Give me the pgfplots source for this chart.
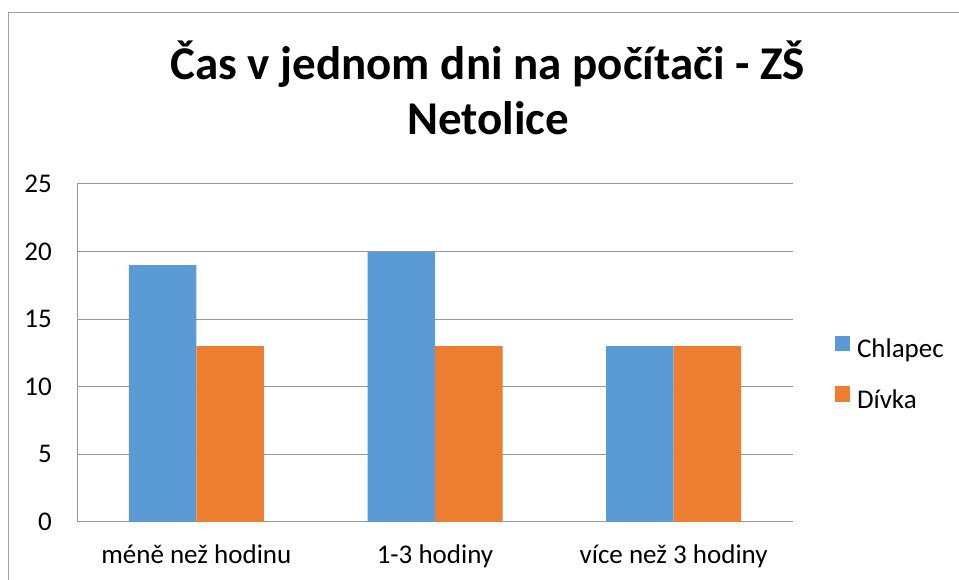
\documentclass[border=0pt]{standalone}
\usepackage{pgfplots}
\pgfplotsset{compat=1.18}
\usepackage{fontspec}
\setmainfont{Carlito}
\definecolor{cblue}{RGB}{91,155,213}
\definecolor{corange}{RGB}{237,125,49}
\definecolor{cgrid}{RGB}{150,150,150}
\definecolor{cframe}{RGB}{160,160,160}
\begin{document}
\begin{tikzpicture}
\useasboundingbox (0bp,0bp) rectangle (959bp,580bp);
\draw[cframe, line width=1bp] (8.5bp,567.5bp) rectangle (1000bp,-50bp);
\node[anchor=base, font=\fontsize{47bp}{56bp}\selectfont\bfseries] at (487.5bp,500bp) {Čas v jednom dni na počítači - ZŠ};
\node[anchor=base, font=\fontsize{47bp}{56bp}\selectfont\bfseries] at (488bp,445bp) {Netolice};
\begin{axis}[
  at={(77bp,58bp)}, anchor=south west,
  scale only axis, width=716bp, height=338bp,
  ybar=0pt, bar width=67.5bp,
  xmin=-0.5, xmax=2.5, ymin=0, ymax=25,
  xtick={0,1,2},
  xticklabels={méně než hodinu, 1-3 hodiny, více než 3 hodiny},
  ytick={0,5,10,15,20,25},
  /pgf/number format/assume math mode=true,
  major tick length=0pt,
  axis x line*=bottom, axis y line*=left,
  axis line style={cgrid, line width=1bp, -},
  ymajorgrids, major grid style={cgrid, line width=1bp},
  tick label style={font=\fontsize{27bp}{32bp}\selectfont, text=black},
  yticklabel style={anchor=east, inner sep=0pt, xshift=-25bp},
  xticklabel style={anchor=base, inner sep=0pt, yshift=-41bp},
  legend image code/.code={\fill[#1] (0bp,0bp) rectangle (15bp,15bp);},
  legend style={at={(1.05866,0.5503)}, anchor=north west, draw=none, fill=none,
    inner sep=0pt, outer sep=0pt, row sep=23bp,
    font=\fontsize{27bp}{32bp}\selectfont,
    nodes={inner sep=0pt, text height=19bp, text depth=6bp},
    /tikz/every even column/.append style={column sep=0bp}},
  legend cell align=left,
  /tikz/every odd column/.append style={column sep=7bp},
]
\addplot[fill=cblue, draw=none] coordinates {(0,19) (1,20) (2,13)};
\addplot[fill=corange, draw=none] coordinates {(0,13) (1,13) (2,13)};
\legend{Chlapec, Dívka}
\end{axis}
\end{tikzpicture}
\end{document}
